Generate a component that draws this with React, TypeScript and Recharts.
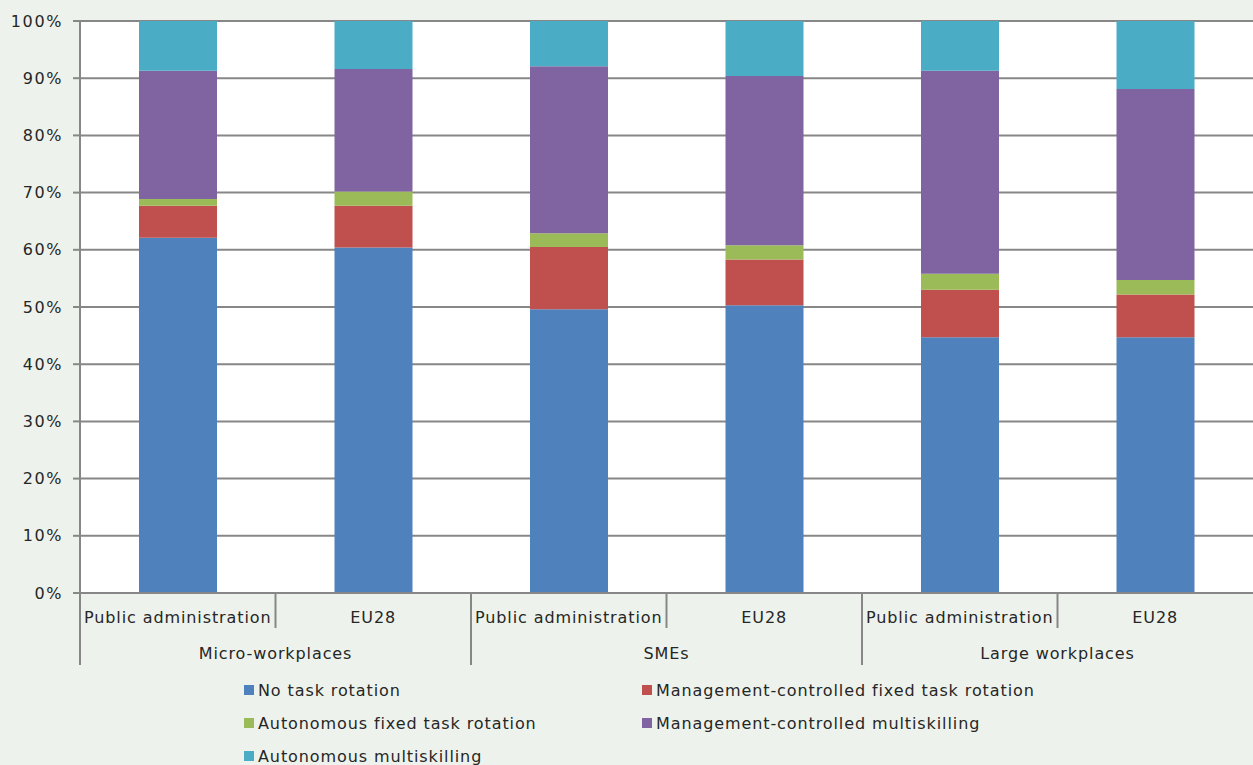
import React from "react";
import { BarChart, Bar, XAxis, YAxis, CartesianGrid } from "recharts";

document.body.style.margin = "0";

const groups = ["Micro-workplaces", "SMEs", "Large workplaces"];
const subCategories = ["Public administration", "EU28"];

const noRotation = [62.1, 60.4, 49.6, 50.3, 44.7, 44.7];
const mgmtFixed = [5.6, 7.3, 10.9, 8.0, 8.3, 7.5];
const autoFixed = [1.2, 2.5, 2.4, 2.5, 2.8, 2.5];
const mgmtMulti = [22.4, 21.4, 29.2, 29.6, 35.5, 33.4];
const autoMulti = [8.7, 8.4, 7.9, 9.6, 8.7, 11.9];

const yTicks = [0, 10, 20, 30, 40, 50, 60, 70, 80, 90, 100];

const series = [
  { key: "noRotation", name: "No task rotation", color: "#4F81BD", values: noRotation },
  { key: "mgmtFixed", name: "Management-controlled fixed task rotation", color: "#C0504D", values: mgmtFixed },
  { key: "autoFixed", name: "Autonomous fixed task rotation", color: "#9BBB59", values: autoFixed },
  { key: "mgmtMulti", name: "Management-controlled multiskilling", color: "#8064A2", values: mgmtMulti },
  { key: "autoMulti", name: "Autonomous multiskilling", color: "#4BACC6", values: autoMulti },
];

const data = groups.flatMap((g, gi) =>
  subCategories.map((s, si) => {
    const i = gi * subCategories.length + si;
    const row: Record<string, string | number> = { id: `${g}-${s}`, sub: s, group: g };
    series.forEach((sr) => (row[sr.key] = sr.values[i]));
    return row;
  })
);

const W = 1253;
const H = 765;
const Y_AXIS_W = 80;
const BAND = (W - Y_AXIS_W) / data.length;
const FONT = "'DejaVu Sans', Verdana, sans-serif";
const SPACING = "0.9px";
const GRID = "#878787";
const TEXT = "#262626";

// two-level category axis: sub label, then group label under each pair
function TwoLevelTick(props: any) {
  const { x, y, payload } = props;
  const i = payload.index;
  const row = data[i];
  const left = x - BAND / 2;
  const right = x + BAND / 2;
  const lastInGroup = i % subCategories.length === subCategories.length - 1;
  const isLast = i === data.length - 1;
  return (
    <g>
      <text x={x} y={y + 30} textAnchor="middle" fontSize={16} fill={TEXT} fontFamily={FONT} letterSpacing={SPACING}>
        {row.sub}
      </text>
      {i === 0 && <line x1={left} x2={left} y1={y} y2={y + 72} stroke={GRID} strokeWidth={2} />}
      {!isLast && (
        <line x1={right} x2={right} y1={y} y2={lastInGroup ? y + 72 : y + 35} stroke={GRID} strokeWidth={2} />
      )}
      {lastInGroup && (
        <text x={right - BAND} y={y + 66} textAnchor="middle" fontSize={16} fill={TEXT} fontFamily={FONT} letterSpacing={SPACING}>
          {row.group}
        </text>
      )}
    </g>
  );
}

export default function App() {
  return (
    <div style={{ position: "relative", width: W, height: H, background: "#EDF3EC", fontFamily: FONT }}>
      <BarChart
        width={W}
        height={H}
        data={data}
        margin={{ top: 21, right: 0, left: 0, bottom: 0 }}
        barSize={78}
      >
        <CartesianGrid vertical={false} stroke={GRID} strokeWidth={2} fill="#fff" />
        <YAxis
          width={Y_AXIS_W}
          domain={[0, 100]}
          ticks={yTicks}
          interval={0}
          tickFormatter={(v: number) => `${v}%`}
          tick={{ fontSize: 16, fill: TEXT, fontFamily: FONT, letterSpacing: "1.6px" }}
          tickSize={7}
          tickMargin={10}
          tickLine={{ stroke: GRID, strokeWidth: 2 }}
          axisLine={{ stroke: GRID, strokeWidth: 2 }}
        />
        <XAxis
          dataKey="id"
          height={172}
          interval={0}
          tickSize={0}
          tickMargin={0}
          tickLine={false}
          axisLine={{ stroke: GRID, strokeWidth: 2 }}
          tick={<TwoLevelTick />}
        />
        {series.map((s) => (
          <Bar key={s.key} dataKey={s.key} name={s.name} stackId="a" fill={s.color} isAnimationActive={false} />
        ))}
      </BarChart>
      <div
        style={{
          position: "absolute",
          left: 244,
          top: 680,
          width: 820,
          display: "flex",
          flexWrap: "wrap",
          rowGap: 13,
          letterSpacing: SPACING,
        }}
      >
        {series.map((s) => (
          <div key={s.key} style={{ width: 398, display: "flex", alignItems: "center", fontSize: 16, color: TEXT, height: 20 }}>
            <span style={{ width: 10, height: 10, background: s.color, marginRight: 4, display: "inline-block", flexShrink: 0 }} />
            {s.name}
          </div>
        ))}
      </div>
    </div>
  );
}
